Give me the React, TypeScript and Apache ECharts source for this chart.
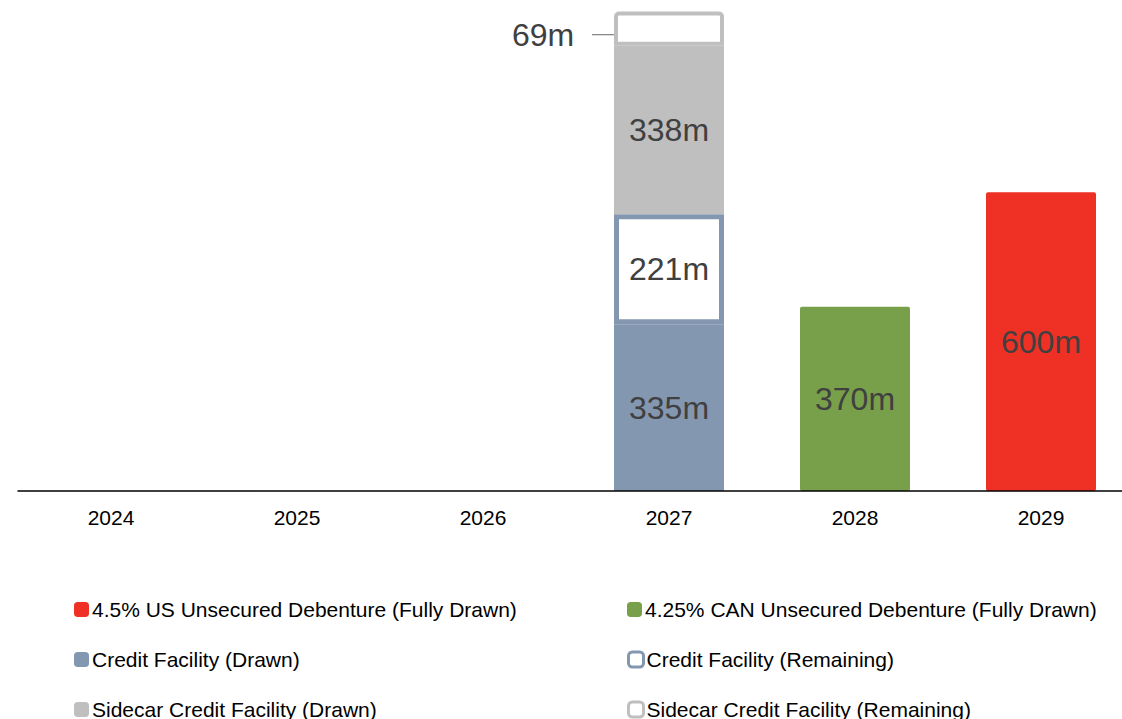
import React, { useEffect, useRef } from "react";
import * as echarts from "echarts";

const years = ["2024", "2025", "2026", "2027", "2028", "2029"];
const usDebenture = [null, null, null, null, null, 600];
const canDebenture = [null, null, null, null, 370, null];
const creditDrawn = [null, null, null, 335, null, null];
const creditRemaining = [null, null, null, 221, null, null];
const sidecarDrawn = [null, null, null, 338, null, null];
const sidecarRemaining = [null, null, null, 69, null, null];

const NAMES = {
  us: "4.5% US Unsecured Debenture (Fully Drawn)",
  can: "4.25% CAN Unsecured Debenture (Fully Drawn)",
  cd: "Credit Facility (Drawn)",
  cr: "Credit Facility (Remaining)",
  sd: "Sidecar Credit Facility (Drawn)",
  sr: "Sidecar Credit Facility (Remaining)",
};

const RED = "#EE3124";
const GREEN = "#789F4A";
const BLUE = "#8497B0";
const GREY = "#BFBFBF";

export default function App() {
  const ref = useRef<HTMLDivElement>(null);
  useEffect(() => {
    if (!ref.current) return;
    const chart = echarts.init(ref.current, undefined, { renderer: "svg" });
    const font = "'Liberation Sans', Arial, sans-serif";
    const inLabel = {
      show: true,
      position: "inside",
      fontSize: 32,
      fontFamily: font,
      color: "#404040",
      formatter: (p: any) => p.value + "m",
    };
    const legendText = { fontSize: 21, fontFamily: font, color: "#000", lineHeight: 16, padding: [0, 0, 0, -2] };
    const mkLegend = (name: string, left: number, top: number, itemStyle?: any) => ({
      orient: "horizontal",
      left,
      top,
      padding: 0,
      itemWidth: 15,
      itemHeight: 15,
      icon: "roundRect",
      textStyle: legendText,
      data: [itemStyle ? { name, itemStyle } : { name }],
    });
    chart.setOption({
      animation: false,
      grid: { left: 18, width: 1116, top: 11, height: 480 },
      xAxis: {
        type: "category",
        data: years,
        z: 5,
        axisLine: { lineStyle: { color: "#000", width: 1.5 } },
        axisTick: { show: false },
        axisLabel: { fontSize: 21, fontFamily: font, color: "#000", margin: 16 },
      },
      yAxis: { type: "value", min: 0, max: 964, show: false, splitLine: { show: false } },
      legend: [
        mkLegend(NAMES.us, 74, 599),
        mkLegend(NAMES.cd, 74, 649),
        mkLegend(NAMES.sd, 74, 699),
        mkLegend(NAMES.can, 627, 599),
        mkLegend(NAMES.cr, 627, 649, { color: "#fff", borderColor: BLUE, borderWidth: 3 }),
        mkLegend(NAMES.sr, 627, 699, { color: "#fff", borderColor: GREY, borderWidth: 3 }),
      ],
      series: [
        {
          name: NAMES.us,
          type: "bar",
          stack: "a",
          barWidth: 110,
          data: usDebenture,
          itemStyle: { color: RED, borderRadius: 2 },
          label: inLabel,
        },
        {
          name: NAMES.can,
          type: "bar",
          stack: "a",
          data: canDebenture,
          itemStyle: { color: GREEN, borderRadius: 2 },
          label: inLabel,
        },
        {
          name: NAMES.cd,
          type: "bar",
          stack: "a",
          data: creditDrawn,
          itemStyle: { color: BLUE },
          label: inLabel,
        },
        {
          name: NAMES.cr,
          type: "bar",
          stack: "a",
          data: creditRemaining,
          itemStyle: { color: "#fff", borderColor: BLUE, borderWidth: 5 },
          label: inLabel,
        },
        {
          name: NAMES.sd,
          type: "bar",
          stack: "a",
          data: sidecarDrawn,
          itemStyle: { color: GREY },
          label: inLabel,
        },
        {
          name: NAMES.sr,
          type: "bar",
          stack: "a",
          data: sidecarRemaining,
          itemStyle: { color: "#fff", borderColor: GREY, borderWidth: 4, borderRadius: [3, 3, 0, 0] },
          label: {
            ...inLabel,
            position: "left",
            distance: 0,
            formatter: (p: any) => p.value + "m  ",
          },
          labelLayout: { dx: -22, dy: 6 },
          labelLine: { show: true, smooth: 0.3, lineStyle: { color: "#7f7f7f", width: 1.2 } },
        },
      ],
    });
    return () => chart.dispose();
  }, []);
  return (
    <div style={{ position: "absolute", left: 0, top: 0, width: 1122, height: 719, overflow: "hidden" }}>
      <div ref={ref} style={{ width: 1140, height: 719 }} />
    </div>
  );
}
